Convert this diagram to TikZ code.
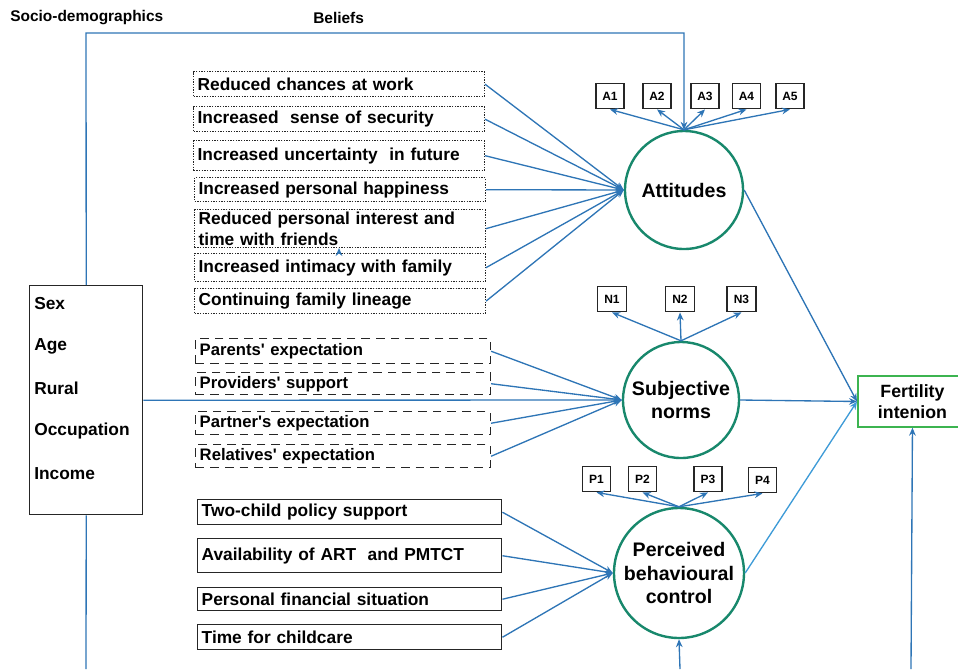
\documentclass[tikz,border=0pt]{standalone}
\usepackage{fontspec}
\setmainfont{Liberation Sans}[Ligatures=TeXOff]
\usetikzlibrary{arrows.meta}
\definecolor{lc}{RGB}{46,117,182}
\definecolor{lc2}{RGB}{62,155,215}
\definecolor{cg}{RGB}{24,136,108}
\definecolor{fg}{RGB}{60,180,80}
\newcommand\setfs[2]{\fontsize{#1}{#2}\selectfont}
\begin{document}
\begin{tikzpicture}[x=0.75pt,y=-0.75pt,font=\bfseries,
  conn/.style={draw=lc, line width=1pt, -{Stealth[length=6pt,width=5pt]}},
  plain/.style={draw=lc, line width=1pt},
  belief/.style={draw=black!85, line width=1pt, dash pattern=on 1pt off 1pt, anchor=north west,
     minimum width=218pt, text width=212pt, inner xsep=3pt, inner ysep=0pt, align=left, font=\bfseries\setfs{13}{16}},
  norm/.style={draw=black!85, line width=1.1pt, dash pattern=on 6.5pt off 4.5pt, anchor=north west,
     minimum width=221pt, text width=215pt, inner xsep=3pt, inner ysep=0pt, align=left, font=\bfseries\setfs{12.5}{15}},
  ctrl/.style={draw=black!85, line width=1.1pt, anchor=north west,
     minimum width=228pt, text width=222pt, inner xsep=3pt, inner ysep=0pt, align=left, font=\bfseries\setfs{13}{16}},
  latent/.style={circle, draw=cg, line width=1.8pt, inner sep=0pt, align=center, font=\bfseries\setfs{14.7}{17.5}},
  ind/.style={draw=black!85, line width=1.1pt, minimum width=21pt, minimum height=19pt, inner sep=0pt, font=\bfseries\setfs{9}{10}},
  sdtext/.style={anchor=west, inner sep=0pt, font=\bfseries\setfs{13}{15}},
  head/.style={anchor=west, inner sep=0pt, font=\bfseries\setfs{11.6}{13}}
]
\useasboundingbox (0,0) rectangle (958,669);

% headings
\node[head] (hsd) at (10,18) {Socio-demographics};
\node[head] (hbel) at (313,18) {Beliefs};

% socio-demographics box
\node[draw=black!85, line width=1.1pt, anchor=north west, minimum width=84.75pt, minimum height=171.75pt, inner sep=0pt] (sd) at (29,285) {};
\node[sdtext] (sex) at (34,304) {Sex};
\node[sdtext] (age) at (34,346) {Age};
\node[sdtext] (rur) at (34,388) {Rural};
\node[sdtext] (occ) at (34,431) {Occupation};
\node[sdtext] (inc) at (34,474) {Income};

% latent constructs
\node[latent, minimum size=88.5pt] (att) at (684,190) {Attitudes};
\node[latent, minimum size=87pt] (sn) at (681,400) {Subjective\\norms};
\node[latent, minimum size=97.5pt] (pbc) at (679,573) {Perceived\\behavioural\\control};

% fertility intention
\node[draw=fg, line width=1.2pt, anchor=west, minimum width=82pt, minimum height=38pt, inner sep=0pt, align=center, font=\bfseries\setfs{13.3}{15.75}] (fi) at (857,401.5) {Fertility\\intenion};

% beliefs
\node[belief, minimum height=18.75pt] (b1) at (193,71) {Reduced chances at work};
\node[belief, minimum height=18.75pt] (b2) at (193,106) {Increased\ \ sense of security};
\node[belief, minimum height=22.5pt] (b3) at (193,140) {Increased uncertainty\ \ in future};
\node[belief, minimum height=18pt] (b4) at (194,177) {Increased personal happiness};
\node[belief, minimum height=28.5pt] (b5) at (194,209) {Reduced personal interest and\\time with friends};
\node[belief, minimum height=21pt] (b6) at (194,253) {Increased intimacy with family};
\node[belief, minimum height=18.75pt] (b7) at (194,288) {Continuing family lineage};

% norms
\node[norm, minimum height=18.75pt] (n1) at (195,338) {Parents' expectation};
\node[norm, minimum height=16.5pt] (n2) at (195,372) {Providers' support};
\node[norm, minimum height=17.25pt] (n3) at (195,411) {Partner's expectation};
\node[norm, minimum height=17.25pt] (n4) at (195,444) {Relatives' expectation};

% control
\node[ctrl, minimum height=18.75pt] (c1) at (197,499) {Two-child policy support};
\node[ctrl, minimum height=25.5pt] (c2) at (197,538) {Availability of ART\ \ and PMTCT};
\node[ctrl, minimum height=17.25pt] (c3) at (197,587) {Personal financial situation};
\node[ctrl, minimum height=18.75pt] (c4) at (197,624) {Time for childcare};

% indicators
\node[ind] (a1) at (610,96) {A1};
\node[ind] (a2) at (657,96) {A2};
\node[ind] (a3) at (705,96) {A3};
\node[ind] (a4) at (746.5,96) {A4};
\node[ind] (a5) at (790,96) {A5};
\node[ind, minimum width=22pt] (m1) at (612,299) {N1};
\node[ind, minimum width=22pt] (m2) at (680,299) {N2};
\node[ind, minimum width=22pt] (m3) at (741.5,299) {N3};
\node[ind] (p1) at (596.5,479) {P1};
\node[ind] (p2) at (642.5,479) {P2};
\node[ind] (p3) at (708,479) {P3};
\node[ind] (p4) at (762.5,480) {P4};

% coordinates
\coordinate (tl) at (86,33);
\coordinate (tr) at (684,33);
\coordinate (bl) at (86,669);
\coordinate (bp) at (680,669);
\coordinate (bf) at (911,669);

% top loop
\draw[conn] (sd.north) -- (tl) -- (tr) -- (att.north);
\draw[plain] (sd.south) -- (bl);
\draw[conn] (sd.east) -- (sn.west);
\draw[conn] (bp) -- (pbc.south);
\draw[conn] (bf) -- (fi.south);

% beliefs -> attitudes
\foreach \b in {b1,b2,b3,b4,b5,b6,b7} \draw[conn] (\b.east) -- (att.west);
\foreach \b in {n1,n2,n3,n4} \draw[conn] (\b.east) -- (sn.west);
\foreach \b in {c1,c2,c3,c4} \draw[conn] (\b.east) -- (pbc.west);

% indicators
\foreach \b in {a1,a2,a3,a4,a5} \draw[conn] (att.north) -- (\b.south);
\foreach \b in {m1,m2,m3} \draw[conn] (sn.north) -- (\b.south);
\foreach \b in {p1,p2,p3,p4} \draw[conn] (pbc.north) -- (\b.south);

% to intention
\draw[conn] (att.east) -- (fi.west);
\draw[conn] (sn.east) -- (fi.west);
\draw[conn, draw=lc2] (pbc.east) -- (fi.west);

% stray tip
\coordinate (st1) at (339,251);
\coordinate (st2) at (339,248);
\draw[conn] (st1) -- (st2);
\end{tikzpicture}
\end{document}
